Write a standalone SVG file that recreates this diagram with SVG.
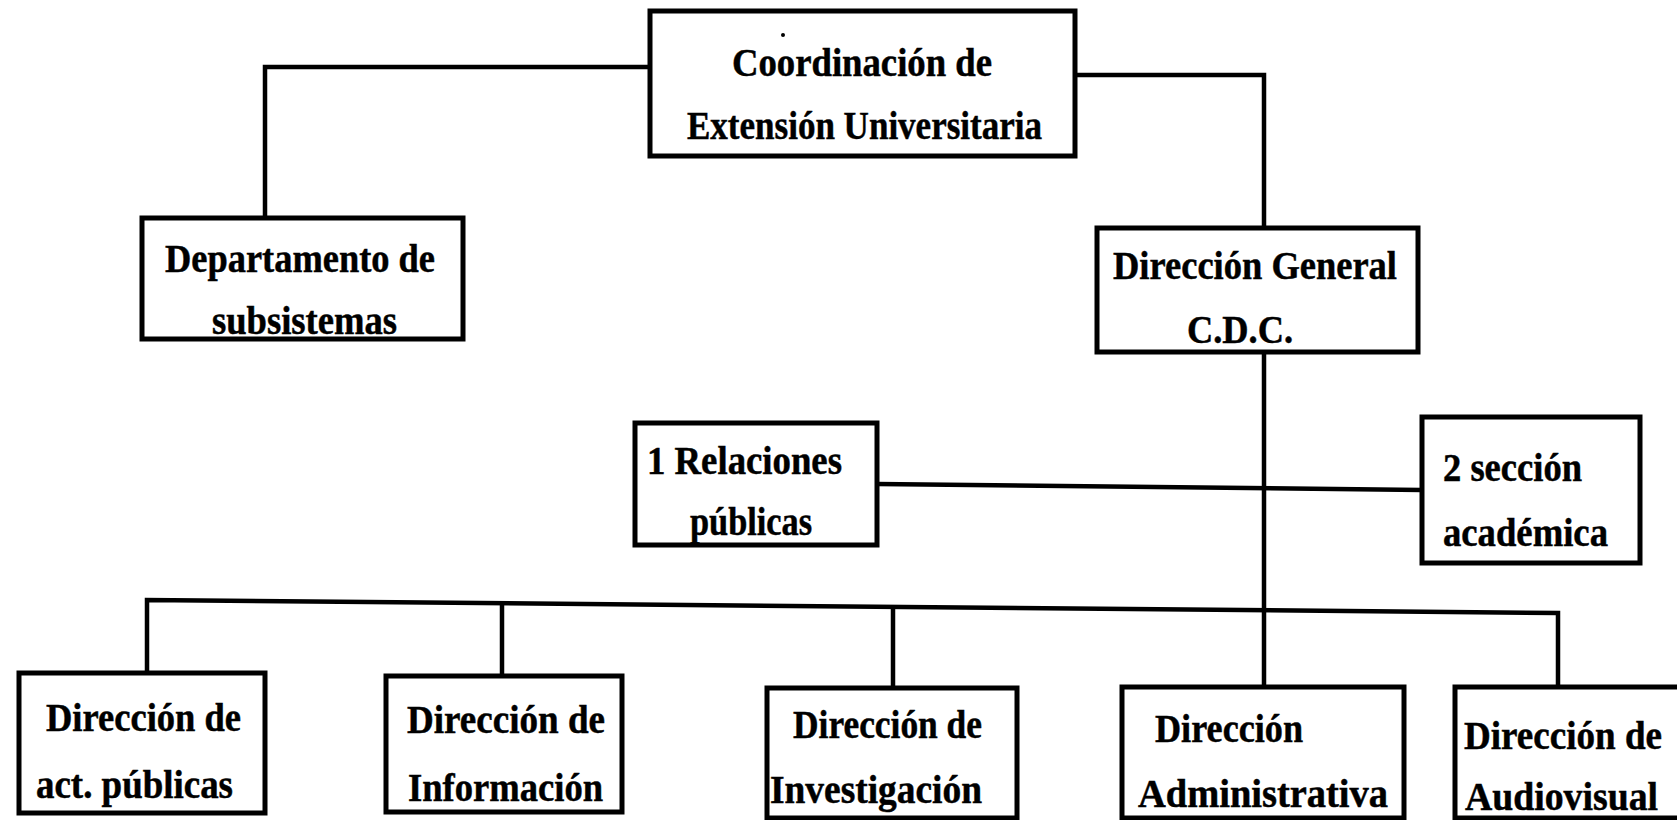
<svg xmlns="http://www.w3.org/2000/svg" width="1677" height="820" viewBox="0 0 1677 820">
<style>
.box{fill:#fff;stroke:#000;stroke-width:5}
.ln{fill:none;stroke:#000;stroke-width:4.5;stroke-linejoin:miter}
text{font-family:"Liberation Serif","Times New Roman",serif;font-weight:bold;font-size:41px;fill:#000;stroke:#000;stroke-width:0.5}
</style>
<rect width="1677" height="820" fill="#fff"/>
<g id="connectors">
<polyline class="ln" points="650,67 265,67 265,218"/>
<polyline class="ln" points="1075,75 1264,75 1264,228"/>
<line class="ln" x1="1264" y1="352" x2="1264" y2="687"/>
<line class="ln" x1="877" y1="484" x2="1422" y2="490"/>
<polyline class="ln" points="147,673 147,600 1558,613 1558,687"/>
<line class="ln" x1="502" y1="603" x2="502" y2="676"/>
<line class="ln" x1="893" y1="606" x2="893" y2="688"/>
</g>
<g id="coordinacion">
<rect class="box" x="650" y="11" width="425" height="145"/>
<circle cx="783" cy="35" r="2" fill="#000"/>
<text x="732" y="76" textLength="260" lengthAdjust="spacingAndGlyphs">Coordinación de</text>
<text x="687" y="139" textLength="355" lengthAdjust="spacingAndGlyphs">Extensión Universitaria</text>
</g>
<g id="departamento">
<rect class="box" x="142" y="218" width="321" height="121"/>
<text x="165" y="272" textLength="270" lengthAdjust="spacingAndGlyphs">Departamento de</text>
<text x="212" y="334" textLength="185" lengthAdjust="spacingAndGlyphs">subsistemas</text>
</g>
<g id="direccion-general">
<rect class="box" x="1097" y="228" width="321" height="124"/>
<text x="1113" y="279" textLength="284" lengthAdjust="spacingAndGlyphs">Dirección General</text>
<text x="1187" y="343" textLength="106" lengthAdjust="spacingAndGlyphs">C.D.C.</text>
</g>
<g id="relaciones">
<rect class="box" x="635" y="423" width="242" height="122"/>
<text x="647" y="474" textLength="195" lengthAdjust="spacingAndGlyphs">1 Relaciones</text>
<text x="690" y="535" textLength="122" lengthAdjust="spacingAndGlyphs">públicas</text>
</g>
<g id="seccion-academica">
<rect class="box" x="1422" y="417" width="218" height="146"/>
<text x="1443" y="481" textLength="139" lengthAdjust="spacingAndGlyphs">2 sección</text>
<text x="1443" y="546" textLength="165" lengthAdjust="spacingAndGlyphs">académica</text>
</g>
<g id="act-publicas">
<rect class="box" x="19" y="673" width="246" height="140"/>
<text x="46" y="731" textLength="195" lengthAdjust="spacingAndGlyphs">Dirección de</text>
<text x="36" y="798" textLength="197" lengthAdjust="spacingAndGlyphs">act. públicas</text>
</g>
<g id="informacion">
<rect class="box" x="386" y="676" width="236" height="136"/>
<text x="407" y="733" textLength="198" lengthAdjust="spacingAndGlyphs">Dirección de</text>
<text x="408" y="801" textLength="195" lengthAdjust="spacingAndGlyphs">Información</text>
</g>
<g id="investigacion">
<rect class="box" x="767" y="688" width="250" height="130"/>
<text x="793" y="738" textLength="189" lengthAdjust="spacingAndGlyphs">Dirección de</text>
<text x="770" y="803" textLength="212" lengthAdjust="spacingAndGlyphs">Investigación</text>
</g>
<g id="administrativa">
<rect class="box" x="1122" y="687" width="282" height="131"/>
<text x="1155" y="742" textLength="148" lengthAdjust="spacingAndGlyphs">Dirección</text>
<text x="1138" y="807" textLength="250" lengthAdjust="spacingAndGlyphs">Administrativa</text>
</g>
<g id="audiovisual">
<rect class="box" x="1455" y="687" width="240" height="131"/>
<text x="1464" y="749" textLength="198" lengthAdjust="spacingAndGlyphs">Dirección de</text>
<text x="1465" y="810" textLength="193" lengthAdjust="spacingAndGlyphs">Audiovisual</text>
</g>
</svg>
